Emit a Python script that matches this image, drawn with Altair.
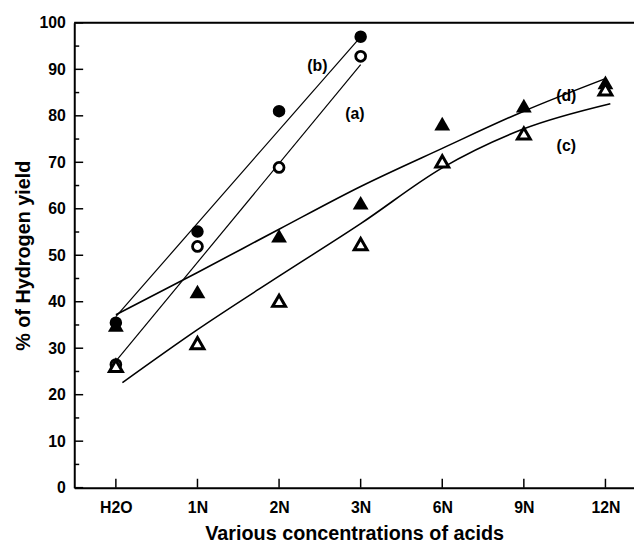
import altair as alt
import pandas as pd

# categories on x axis (plotted at index positions 0..6)
categories = ["H2O", "1N", "2N", "3N", "6N", "9N", "12N"]
cat_index = [0, 1, 2, 3, 4, 5, 6]

# (b) filled circles and (a) open circles: H2O..3N
circ_x = [0, 1, 2, 3]
b_filled = [35.5, 55.1, 81.0, 97.0]
a_open = [26.5, 51.9, 68.9, 92.8]

# (d) filled triangles and (c) open triangles: H2O..12N
d_filled = [35.0, 42.2, 54.2, 61.3, 78.3, 82.2, 87.2]
c_open = [26.2, 31.1, 40.2, 52.4, 70.2, 76.2, 85.7]

# fitted lines
b_line_x = [0, 3]
b_line_y = [36.8, 97.0]
a_line_x = [0, 3]
a_line_y = [27.2, 91.0]
d_curve_x = [0, 1, 2, 3, 4, 5, 6]
d_curve_y = [37.2, 46.3, 55.6, 64.8, 73.0, 81.0, 88.0]
c_curve_x = [0.08, 1, 2, 3, 4, 5, 6.06]
c_curve_y = [22.6, 34.0, 45.5, 56.8, 68.8, 77.2, 82.6]

# curve labels
lab_text = ["(b)", "(a)", "(d)", "(c)"]
lab_x = [2.47, 2.93, 5.52, 5.52]
lab_y = [90.6, 80.4, 84.3, 73.4]

y_major = list(range(0, 101, 10))
y_minor = list(range(5, 100, 10))

W, H = 566, 470
FONT = "Liberation Sans"

xscale = alt.Scale(domain=[-0.51, 6.35], nice=False, zero=False)
yscale = alt.Scale(domain=[0, 100], nice=False)

lab_expr = "[" + ",".join("'%s'" % c for c in categories) + "][datum.value]"

xaxis = alt.Axis(values=cat_index, labelExpr=lab_expr, title="Various concentrations of acids",
                 ticks=False, grid=False, domainColor="black", domainWidth=2,
                 labelFont=FONT, labelFontSize=16, labelFontWeight="bold", labelColor="black",
                 labelPadding=12, titleFont=FONT, titleFontSize=20, titleFontWeight="bold",
                 titleColor="black", titlePadding=8)
yaxis = alt.Axis(values=y_major, title="% of Hydrogen yield", ticks=False, grid=False,
                 domainColor="black", domainWidth=2, labelFont=FONT, labelFontSize=16,
                 labelFontWeight="bold", labelColor="black", labelPadding=9,
                 titleFont=FONT, titleFontSize=20, titleFontWeight="bold", titleColor="black",
                 titlePadding=6)

df_c = pd.DataFrame({"x": circ_x, "b": b_filled, "a": a_open})
df_t = pd.DataFrame({"x": cat_index, "d": d_filled, "c": c_open})

def line(xs, ys, sw, interp="linear"):
    return alt.Chart(pd.DataFrame({"x": xs, "y": ys})).mark_line(
        color="black", strokeWidth=sw, interpolate=interp).encode(
        x=alt.X("x:Q", scale=xscale, axis=xaxis),
        y=alt.Y("y:Q", scale=yscale, axis=yaxis))

lb = line(b_line_x, b_line_y, 1.2)
la = line(a_line_x, a_line_y, 1.2)
ld = line(d_curve_x, d_curve_y, 1.6, "monotone")
lc = line(c_curve_x, c_curve_y, 1.6, "monotone")

pts_b = alt.Chart(df_c).mark_point(shape="circle", filled=True, color="black", size=160, opacity=1).encode(
    x="x:Q", y="b:Q")
pts_d = alt.Chart(df_t).mark_point(shape="triangle-up", filled=True, color="black", size=256, opacity=1).encode(
    x="x:Q", y="d:Q")
pts_a = alt.Chart(df_c).mark_point(shape="circle", filled=False, stroke="black", fill="white",
                                   strokeWidth=2.8, size=100, opacity=1).encode(x="x:Q", y="a:Q")
pts_c = alt.Chart(df_t).mark_point(shape="triangle-up", filled=False, stroke="black", fill="white",
                                   strokeWidth=3, size=170, opacity=1).encode(x="x:Q", y="c:Q")

labels = alt.Chart(pd.DataFrame({"x": lab_x, "y": lab_y, "t": lab_text})).mark_text(
    font=FONT, fontSize=16, fontWeight="bold", color="black", align="center", baseline="middle").encode(
    x="x:Q", y="y:Q", text="t:N")

top_line = alt.Chart(pd.DataFrame({"y": [100]})).mark_rule(color="black", strokeWidth=2).encode(
    y="y:Q", x=alt.value(0), x2=alt.value(W))

ymaj = alt.Chart(pd.DataFrame({"v": y_major})).mark_rule(color="black", strokeWidth=1.5).encode(
    y="v:Q", x=alt.value(0), x2=alt.value(9))
ymin = alt.Chart(pd.DataFrame({"v": y_minor})).mark_rule(color="black", strokeWidth=1.5).encode(
    y="v:Q", x=alt.value(0), x2=alt.value(5))
xmaj = alt.Chart(pd.DataFrame({"v": cat_index})).mark_rule(color="black", strokeWidth=1.5).encode(
    x="v:Q", y=alt.value(H), y2=alt.value(H - 9))

chart = alt.layer(lb, la, ld, lc, top_line, ymaj, ymin, xmaj, pts_b, pts_a, pts_d, pts_c, labels).properties(
    width=W, height=H,
    padding={"left": 67, "top": 12, "right": 0, "bottom": 58},
    autosize=alt.AutoSizeParams(type="none"),
).configure_view(stroke=None).configure(background="white")

chart.save("out.html", embed_options={"renderer": "svg", "actions": False})
